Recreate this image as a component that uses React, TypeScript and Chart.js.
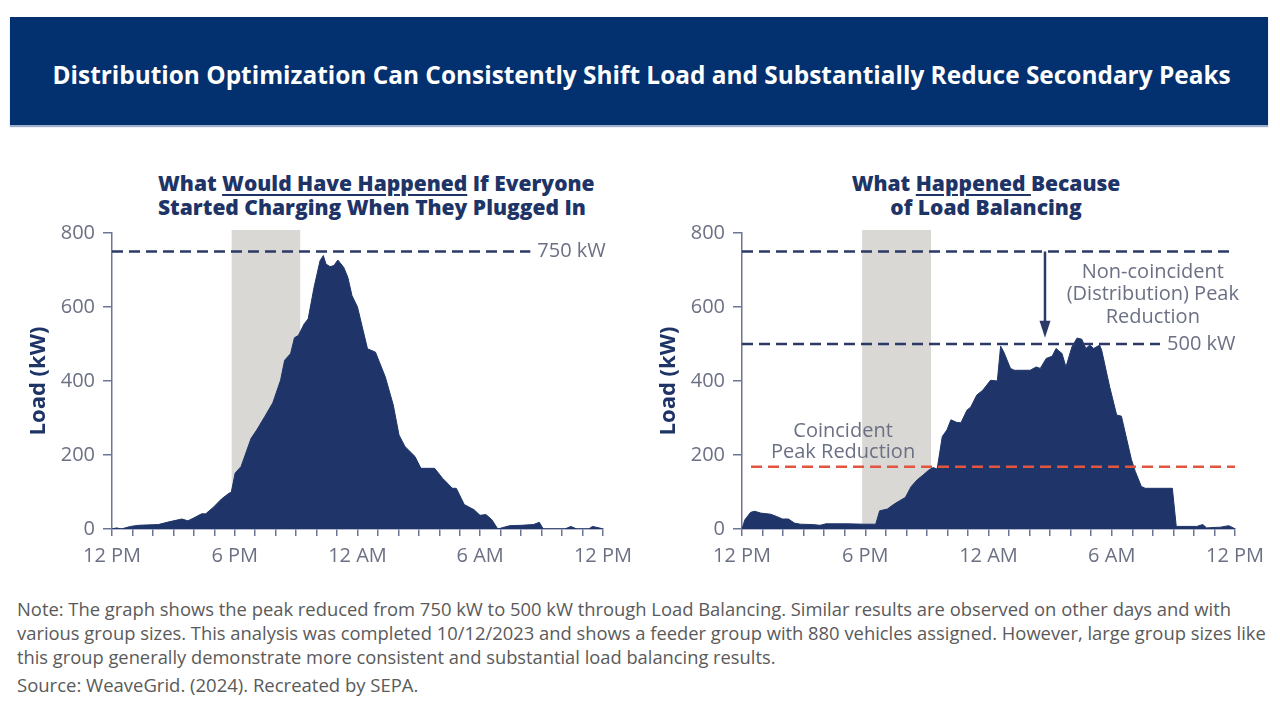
import React, { useEffect, useLayoutEffect, useRef } from 'react';
import { Chart, registerables } from 'chart.js';

Chart.register(...registerables);

// ---------- data ----------
const X_TICK_LABELS = ['12 PM', '6 PM', '12 AM', '6 AM', '12 PM'];
const Y_MAX = 800;
const Y_STEP = 200;

// hours after 12 PM, load in kW
const BEFORE_HOURS = [0, 0.23, 0.45, 0.91, 1.29, 2.26, 2.84, 3.42, 3.71, 4.0, 4.38, 4.58, 4.96, 5.35, 5.73, 5.83, 6.02, 6.31, 6.8, 7.08, 7.47, 7.86, 8.24, 8.44, 8.73, 8.92, 9.11, 9.4, 9.59, 9.88, 10.17, 10.33, 10.46, 10.66, 10.85, 11.04, 11.33, 11.53, 11.73, 12.0, 12.49, 12.88, 13.36, 13.75, 14.03, 14.32, 14.81, 15.1, 15.77, 16.16, 16.64, 16.83, 17.22, 17.7, 17.99, 18.28, 18.57, 18.86, 19.44, 20.02, 20.6, 20.89, 21.08, 22.14, 22.43, 22.72, 23.3, 23.49, 23.88, 24];
const BEFORE_LOAD = [0, 3, 0, 7, 10, 12, 20, 27, 22, 30, 41, 41, 59, 81, 97, 99, 151, 169, 245, 268, 304, 341, 402, 456, 474, 517, 523, 555, 568, 654, 725, 739, 716, 709, 712, 727, 707, 680, 631, 600, 487, 478, 411, 335, 254, 223, 196, 164, 164, 137, 110, 110, 66, 52, 37, 39, 25, 0, 9, 10, 12, 18, 0, 0, 7, 0, 0, 7, 2, 0];

const AFTER_HOURS = [0, 0.14, 0.42, 0.62, 0.91, 1.39, 1.68, 1.97, 2.26, 2.55, 2.84, 3.42, 3.8, 4.09, 5.15, 5.93, 6.51, 6.7, 7.08, 7.37, 7.66, 7.95, 8.24, 8.53, 8.82, 9.11, 9.31, 9.5, 9.75, 9.98, 10.17, 10.46, 10.66, 10.95, 11.14, 11.43, 11.72, 12.1, 12.43, 12.59, 12.74, 13.07, 13.26, 14.03, 14.32, 14.52, 14.81, 15.1, 15.29, 15.39, 15.58, 15.77, 16.06, 16.31, 16.54, 16.74, 16.93, 17.12, 17.41, 17.51, 17.9, 18.24, 18.47, 18.96, 19.15, 19.44, 19.63, 20.95, 21.14, 22.14, 22.43, 22.62, 23.3, 23.69, 23.92, 24];
const AFTER_LOAD = [0, 25, 45, 48, 43, 40, 34, 27, 27, 16, 13, 12, 10, 14, 14, 13, 13, 49, 54, 66, 76, 85, 115, 133, 146, 160, 166, 162, 250, 268, 295, 288, 287, 321, 330, 362, 375, 402, 400, 494, 479, 434, 429, 429, 438, 434, 461, 467, 488, 483, 474, 438, 492, 516, 513, 488, 497, 488, 497, 483, 384, 308, 305, 187, 155, 115, 110, 110, 7, 7, 12, 3, 5, 9, 3, 0];

const PEAK_BEFORE = 750;
const PEAK_AFTER = 500;
const COINCIDENT_LEVEL = 168;
const PLUG_IN_WINDOW = [5.85, 9.2];

// ---------- styles ----------
const NAVY = '#1e3467';
const AREA = '#1f3468';
const AXIS = '#6d7596';
const TICK = '#6b7084';
const BAND = '#d9d8d5';
const DASH_NAVY = '#2c3a68';
const RED = '#e2553f';
const FONT = '"Open Sans", "DejaVu Sans", sans-serif';
const CANVAS_W = 640;
const CANVAS_H = 367;

const overlayPlugin = {
  id: 'overlay',
  beforeDatasetsDraw(chart: any, _a: any, opts: any) {
    const { ctx, chartArea, scales } = chart;
    const x = scales.x;
    const x0 = x.getPixelForValue(opts.band[0]);
    const x1 = x.getPixelForValue(opts.band[1]);
    ctx.save();
    ctx.fillStyle = BAND;
    ctx.fillRect(x0, chartArea.top - 3, x1 - x0, chartArea.bottom - chartArea.top + 3);
    ctx.restore();
  },
  afterDatasetsDraw(chart: any, _a: any, opts: any) {
    const { ctx, scales } = chart;
    const x = scales.x;
    const y = scales.y;
    ctx.save();
    ctx.font = '20px ' + FONT;
    ctx.fillStyle = TICK;
    ctx.textBaseline = 'middle';
    (opts.texts || []).forEach((t: any) => {
      ctx.textAlign = t.align;
      ctx.fillText(t.text, x.getPixelForValue(t.x) + (t.dx || 0), y.getPixelForValue(t.y));
    });
    if (opts.arrow) {
      const a = opts.arrow;
      const px = x.getPixelForValue(a.x);
      const yFrom = y.getPixelForValue(a.from);
      const yTo = y.getPixelForValue(a.to);
      const head = 17;
      ctx.strokeStyle = DASH_NAVY;
      ctx.fillStyle = DASH_NAVY;
      ctx.lineWidth = 2.5;
      ctx.beginPath();
      ctx.moveTo(px, yFrom);
      ctx.lineTo(px, yTo - head + 2);
      ctx.stroke();
      ctx.beginPath();
      ctx.moveTo(px - 5.5, yTo - head);
      ctx.lineTo(px + 5.5, yTo - head);
      ctx.lineTo(px, yTo);
      ctx.closePath();
      ctx.fill();
    }
    ctx.restore();
  },
};

function pts(xs: number[], ys: number[]) {
  return xs.map((v, i) => ({ x: v, y: ys[i] }));
}

function hLine(y: number, from: number, to: number, color: string, order: number) {
  return {
    type: 'line',
    data: [{ x: from, y }, { x: to, y }],
    borderColor: color,
    borderWidth: 2.5,
    borderDash: [11, 6],
    pointRadius: 0,
    fill: false,
    order,
  };
}

function makeConfig(p: any) {
  return {
    type: 'line',
    data: {
      datasets: [
        ...p.lines,
        {
          type: 'line',
          data: pts(p.hours, p.load),
          borderColor: AREA,
          borderWidth: 1,
          backgroundColor: AREA,
          fill: 'origin',
          pointRadius: 0,
          tension: 0,
          order: 10,
        },
      ],
    },
    options: {
      responsive: false,
      animation: false,
      devicePixelRatio: 1,
      layout: { padding: { top: 6, right: p.padRight, bottom: 0, left: 0 } },
      plugins: {
        legend: { display: false },
        tooltip: { enabled: false },
        overlay: { band: PLUG_IN_WINDOW, texts: p.texts, arrow: p.arrow },
      },
      scales: {
        x: {
          type: 'linear',
          min: 0,
          max: 24,
          ticks: {
            stepSize: 1,
            autoSkip: false,
            maxRotation: 0,
            padding: 8,
            color: TICK,
            font: { family: FONT, size: 20 },
            callback: (v: number) => (v % 6 === 0 ? X_TICK_LABELS[v / 6] : ''),
          },
          grid: { drawOnChartArea: false, tickLength: 7, color: AXIS, lineWidth: 1.5 },
          border: { color: AXIS, width: 1.5 },
          afterFit: (s: any) => { s.height = 51; },
        },
        y: {
          min: 0,
          max: Y_MAX,
          ticks: {
            stepSize: Y_STEP,
            padding: 8,
            color: TICK,
            font: { family: FONT, size: 20 },
          },
          grid: { drawOnChartArea: false, tickLength: 9, color: AXIS, lineWidth: 1.5 },
          border: { color: AXIS, width: 1.5 },
          title: {
            display: true,
            text: 'Load (kW)',
            color: NAVY,
            font: { family: FONT, size: 22, weight: 'bold' },
            padding: { top: p.titlePad, bottom: 0 },
          },
          afterFit: (s: any) => { s.width = p.yWidth; },
        },
      },
    },
    plugins: [overlayPlugin],
  };
}

function ChartBox({ config, style }: { config: any; style: React.CSSProperties }) {
  const ref = useRef<HTMLCanvasElement>(null);
  useEffect(() => {
    const c = new Chart(ref.current as HTMLCanvasElement, config);
    return () => c.destroy();
  }, []);
  return (
    <canvas
      ref={ref}
      width={CANVAS_W}
      height={CANVAS_H}
      style={{ position: 'absolute', width: CANVAS_W, height: CANVAS_H, ...style }}
    />
  );
}

function Squeeze({ target, children, style, align = 'left' }: any) {
  const ref = useRef<HTMLSpanElement>(null);
  useLayoutEffect(() => {
    const el = ref.current;
    if (!el) return;
    el.style.transform = 'none';
    const w = el.offsetWidth;
    el.style.transform = `scaleX(${target / w})`;
  }, []);
  return (
    <span
      ref={ref}
      style={{
        display: 'inline-block',
        whiteSpace: 'nowrap',
        transformOrigin: align === 'center' ? 'center' : 'left',
        ...style,
      }}
    >
      {children}
    </span>
  );
}

const leftConfig = makeConfig({
  hours: BEFORE_HOURS,
  load: BEFORE_LOAD,
  padRight: 35,
  yWidth: 112,
  titlePad: 26,
  lines: [hLine(PEAK_BEFORE, 0, 20.45, DASH_NAVY, 1)],
  texts: [{ text: '750 kW', x: 20.45, dx: 7, y: PEAK_BEFORE, align: 'left' }],
});

const rightConfig = makeConfig({
  hours: AFTER_HOURS,
  load: AFTER_LOAD,
  padRight: 45,
  yWidth: 102,
  titlePad: 16,
  lines: [
    hLine(PEAK_BEFORE, 0, 24, DASH_NAVY, 1),
    hLine(PEAK_AFTER, 0, 20.35, DASH_NAVY, 2),
    hLine(COINCIDENT_LEVEL, 0.44, 24, RED, 3),
  ],
  texts: [
    { text: '500 kW', x: 20.35, dx: 7, y: PEAK_AFTER, align: 'left' },
    { text: 'Non-coincident', x: 20.0, y: 693, align: 'center' },
    { text: '(Distribution) Peak', x: 20.0, y: 633, align: 'center' },
    { text: 'Reduction', x: 20.0, y: 572, align: 'center' },
    { text: 'Coincident', x: 4.92, y: 265, align: 'center' },
    { text: 'Peak Reduction', x: 4.92, y: 208, align: 'center' },
  ],
  arrow: { x: 14.75, from: PEAK_BEFORE, to: 517 },
});

const titleStyle: React.CSSProperties = {
  position: 'absolute',
  top: 171,
  fontFamily: FONT,
  fontWeight: 800,
  fontSize: 21,
  lineHeight: '24px',
  color: NAVY,
  textAlign: 'center',
};

const ul: React.CSSProperties = {
  textDecoration: 'underline',
  textDecorationThickness: '2px',
  textUnderlineOffset: '3px',
};

const noteStyle: React.CSSProperties = {
  position: 'absolute',
  left: 17,
  fontFamily: FONT,
  fontSize: 19,
  lineHeight: '24px',
  color: '#5a5a5a',
};

export default function App() {
  return (
    <div
      style={{
        position: 'fixed',
        left: 0,
        top: 0,
        width: 1280,
        height: 720,
        background: '#ffffff',
        overflow: 'hidden',
      }}
    >
      <div
        style={{
          position: 'absolute',
          left: 10,
          top: 17,
          width: 1258,
          height: 108,
          background: '#03306f',
          boxShadow: '0 2px 1px rgba(90,120,170,0.6)',
        }}
      />
      <div
        style={{
          position: 'absolute',
          left: 0,
          width: 1284,
          top: 58,
          textAlign: 'center',
          color: '#ffffff',
          fontFamily: FONT,
          fontWeight: 700,
          fontSize: 25,
          lineHeight: '32px',
        }}
      >
        <Squeeze target={1178} align="center">
          Distribution Optimization Can Consistently Shift Load and Substantially Reduce Secondary Peaks
        </Squeeze>
      </div>

      <div style={{ ...titleStyle, left: 158, width: 400 }}>
        <div style={{ whiteSpace: 'nowrap' }}>
          What <span style={ul}>Would Have Happened</span> If Everyone
        </div>
        <div style={{ whiteSpace: 'nowrap' }}>Started Charging When They Plugged In</div>
      </div>
      <div style={{ ...titleStyle, left: 786, width: 400 }}>
        <div style={{ whiteSpace: 'nowrap' }}>
          What <span style={ul}>Happened&nbsp;</span>Because
        </div>
        <div style={{ whiteSpace: 'nowrap' }}>of Load Balancing</div>
      </div>

      <ChartBox config={leftConfig} style={{ left: 0, top: 213 }} />
      <ChartBox config={rightConfig} style={{ left: 640, top: 213 }} />

      <div style={{ ...noteStyle, top: 597 }}>
        <Squeeze target={1214}>
          Note: The graph shows the peak reduced from 750 kW to 500 kW through Load Balancing. Similar results are observed on other days and with
        </Squeeze>
      </div>
      <div style={{ ...noteStyle, top: 621 }}>
        <Squeeze target={1249}>
          various group sizes. This analysis was completed 10/12/2023 and shows a feeder group with 880 vehicles assigned. However, large group sizes like
        </Squeeze>
      </div>
      <div style={{ ...noteStyle, top: 645 }}>
        <Squeeze target={758}>
          this group generally demonstrate more consistent and substantial load balancing results.
        </Squeeze>
      </div>
      <div style={{ ...noteStyle, top: 673 }}>
        <Squeeze target={401}>Source: WeaveGrid. (2024). Recreated by SEPA.</Squeeze>
      </div>
    </div>
  );
}
